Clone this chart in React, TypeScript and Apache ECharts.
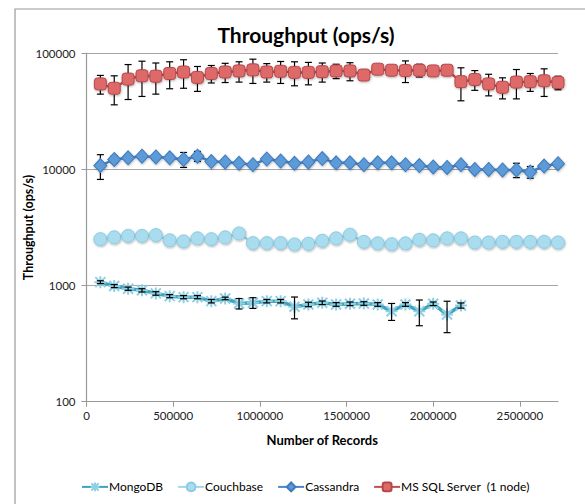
import React, { useEffect, useRef } from "react";
import * as echarts from "echarts";

const records = [
  80000, 160000, 240000, 320000, 400000, 480000, 560000, 640000, 720000, 800000,
  880000, 960000, 1040000, 1120000, 1200000, 1280000, 1360000, 1440000, 1520000, 1600000,
  1680000, 1760000, 1840000, 1920000, 2000000, 2080000, 2160000, 2240000, 2320000, 2400000,
  2480000, 2560000, 2640000, 2720000,
];

const mongoValues = [
  1070, 990, 940, 910, 856, 811, 795, 795, 734, 775, 701, 711, 734, 734, 657, 688, 711, 688,
  697, 701, 688, 601, 688, 601, 697, 563, 674,
];
const mongoErr = [
  30, 30, 30, 30, 30, 25, 25, 25, 25, 20, 72, 75, 25, 25, 140, 30, 25, 25, 25, 25, 25, 100,
  25, 150, 25, 170, 35,
];

const couchValues = [
  2510, 2600, 2680, 2680, 2720, 2450, 2400, 2550, 2510, 2600, 2810, 2320, 2320, 2320, 2260,
  2290, 2430, 2550, 2740, 2380, 2310, 2270, 2310, 2480, 2450, 2550, 2550, 2350, 2350, 2380,
  2380, 2380, 2380, 2350,
];
const couchErr = [
  60, 60, 60, 60, 60, 60, 60, 100, 100, 60, 60, 60, 60, 60, 60, 60, 60, 60, 60, 80, 60, 60,
  60, 60, 60, 60, 60, 60, 60, 60, 60, 60, 60, 60,
];

const cassValues = [
  10800, 12200, 12600, 13000, 12800, 12600, 12200, 13000, 11700, 11600, 11300, 11000, 12300,
  11800, 11300, 11600, 12400, 11400, 11400, 11000, 11400, 11400, 11000, 10800, 10500, 10400,
  11000, 10000, 10000, 9900, 9900, 9500, 10700, 11200,
];
const cassErr = [
  2600, 900, 600, 600, 500, 700, 1800, 1300, 500, 600, 500, 500, 500, 600, 500, 600, 500, 500,
  500, 500, 400, 400, 500, 400, 400, 400, 400, 400, 400, 600, 1400, 1100, 500, 400,
];

const sqlValues = [
  54500, 50000, 60000, 64000, 63500, 67000, 69000, 62000, 67000, 69000, 70500, 72000, 69000,
  70000, 68500, 68500, 69500, 70500, 70500, 65000, 73000, 71500, 71000, 71500, 70500, 71500,
  57000, 59500, 54500, 51000, 56500, 57000, 58000, 56000,
];
const sqlErr = [
  10000, 14000, 20000, 21500, 19000, 17500, 19000, 15000, 11500, 13000, 14000, 17000, 12500,
  15000, 16000, 15000, 13000, 10000, 12500, 4000, 2000, 3000, 15000, 9000, 2000, 2000, 18000,
  11500, 11500, 10500, 16000, 10000, 15500, 7500,
];

const xTicks = [0, 500000, 1000000, 1500000, 2000000, 2500000];

const seriesNames = ["MongoDB", "Couchbase", "Cassandra", "MS SQL Server  (1 node)"];

const FONT = "Lato, 'Open Sans', sans-serif";

function pairs(values: number[]) {
  return values.map((v, i) => [records[i], v]);
}
function errData(values: number[], errs: number[]) {
  return values.map((v, i) => [records[i], v, errs[i]]);
}

function errorSeries(name: string, values: number[], errs: number[], z: number) {
  return {
    type: "custom",
    name: name + "-err",
    z,
    silent: true,
    renderItem: (params: any, api: any) => {
      const x = api.value(0);
      const y = api.value(1);
      const e = api.value(2);
      const top = api.coord([x, y + e]);
      const bot = api.coord([x, Math.max(y - e, 1)]);
      const cap = 3.5;
      const style = { stroke: "#000", lineWidth: 1.2 };
      return {
        type: "group",
        children: [
          { type: "line", shape: { x1: top[0], y1: top[1], x2: bot[0], y2: bot[1] }, style },
          { type: "line", shape: { x1: top[0] - cap, y1: top[1], x2: top[0] + cap, y2: top[1] }, style },
          { type: "line", shape: { x1: bot[0] - cap, y1: bot[1], x2: bot[0] + cap, y2: bot[1] }, style },
        ],
      };
    },
    encode: { x: 0, y: 1 },
    data: errData(values, errs),
  };
}

const shadow = { shadowBlur: 2, shadowColor: "rgba(0,0,0,0.3)", shadowOffsetX: 0.5, shadowOffsetY: 1 };

export default function App() {
  const ref = useRef<HTMLDivElement>(null);
  useEffect(() => {
    if (!ref.current) return;
    const chart = echarts.init(ref.current, undefined, { renderer: "svg" });
    chart.setOption({
      animation: false,
      backgroundColor: "#fff",
      textStyle: { fontFamily: FONT },
      graphic: [
        {
          type: "rect",
          shape: { x: 15, y: 9, width: 700, height: 700 },
          style: { fill: "none", stroke: "#9a9a9a", lineWidth: 1.2 },
          z: -1,
          silent: true,
        },
      ],
      title: {
        text: "Throughput (ops/s)",
        left: 301,
        textAlign: "center",
        top: 19,
        textStyle: { fontFamily: FONT, fontWeight: "bold", fontSize: 21, color: "#000" },
      },
      grid: { left: 86.5, right: 27, top: 53.3, bottom: 102.3, containLabel: false },
      legend: {
        data: seriesNames,
        left: 76,
        top: 475,
        itemWidth: 26,
        itemHeight: 11,
        itemGap: 14,
        textStyle: { fontFamily: FONT, fontSize: 12, color: "#000", padding: [0, 0, 0, -4] },
      },
      xAxis: {
        type: "value",
        min: 0,
        max: 2720000,
        interval: 500000,
        name: "Number of Records",
        nameLocation: "middle",
        nameGap: 32,
        nameTextStyle: { fontFamily: FONT, fontWeight: "bold", fontSize: 13, color: "#000" },
        axisLine: { show: true, lineStyle: { color: "#999", width: 1.2 } },
        axisTick: { show: true, customValues: xTicks, length: 5, lineStyle: { color: "#999" } },
        axisLabel: {
          customValues: xTicks,
          fontFamily: FONT,
          fontSize: 11.5,
          color: "#222",
          margin: 8,
          formatter: (v: number) => String(Math.round(v)),
        },
        splitLine: { show: false },
      },
      yAxis: {
        type: "log",
        logBase: 10,
        min: 100,
        max: 100000,
        name: "Throughput (ops/s)",
        nameLocation: "middle",
        nameGap: 52,
        nameMoveOverlap: false,
        nameTextStyle: { fontFamily: FONT, fontWeight: "bold", fontSize: 12.5, color: "#000" },
        axisLine: { show: true, lineStyle: { color: "#999", width: 1.2 } },
        axisTick: { show: true, inside: false, length: 5, lineStyle: { color: "#999" } },
        axisLabel: {
          fontFamily: FONT,
          fontSize: 11.5,
          color: "#222",
          margin: 11,
          formatter: (v: number) => String(Math.round(v)),
        },
        splitLine: { show: true, lineStyle: { color: "#a6a6a6", width: 1.2 } },
        minorTick: { show: false },
      },
      series: [
        errorSeries("Couchbase", couchValues, couchErr, 1),
        errorSeries("Cassandra", cassValues, cassErr, 1),
        errorSeries("MS SQL Server  (1 node)", sqlValues, sqlErr, 1),
        {
          type: "line",
          name: "Couchbase",
          data: pairs(couchValues),
          z: 3,
          symbol: "circle",
          symbolSize: 13,
          lineStyle: { color: "#9fd7ea", width: 2.5 },
          itemStyle: { color: "#a8dcee", borderColor: "#8ccbe0", borderWidth: 1, ...shadow },
        },
        {
          type: "line",
          name: "Cassandra",
          data: pairs(cassValues),
          z: 3,
          symbol: "diamond",
          symbolSize: [13, 14],
          lineStyle: { color: "#4a86c8", width: 2.5 },
          itemStyle: { color: "#5b9ad8", borderColor: "#3f7abb", borderWidth: 1, ...shadow },
        },
        {
          type: "line",
          name: "MS SQL Server  (1 node)",
          data: pairs(sqlValues),
          z: 3,
          symbol: "roundRect",
          symbolSize: 12,
          lineStyle: { color: "#c0504d", width: 2.5 },
          itemStyle: { color: "#dd6a67", borderColor: "#b8474a", borderWidth: 1, ...shadow },
        },
        {
          type: "line",
          name: "MongoDB",
          data: pairs(mongoValues),
          z: 3,
          symbol: "path://M0,0L10,10M10,0L0,10M-1,5L11,5M5,-1L5,11",
          symbolSize: 12,
          lineStyle: { color: "#3fa3bf", width: 3.5 },
          itemStyle: { color: "none", borderColor: "#8fd0e4", borderWidth: 2 },
        },
        errorSeries("MongoDB", mongoValues, mongoErr, 4),
      ],
    });
    return () => chart.dispose();
  }, []);
  return (
    <div
      ref={ref}
      style={{ position: "absolute", left: 0, top: 0, width: 585, height: 504 }}
    />
  );
}
